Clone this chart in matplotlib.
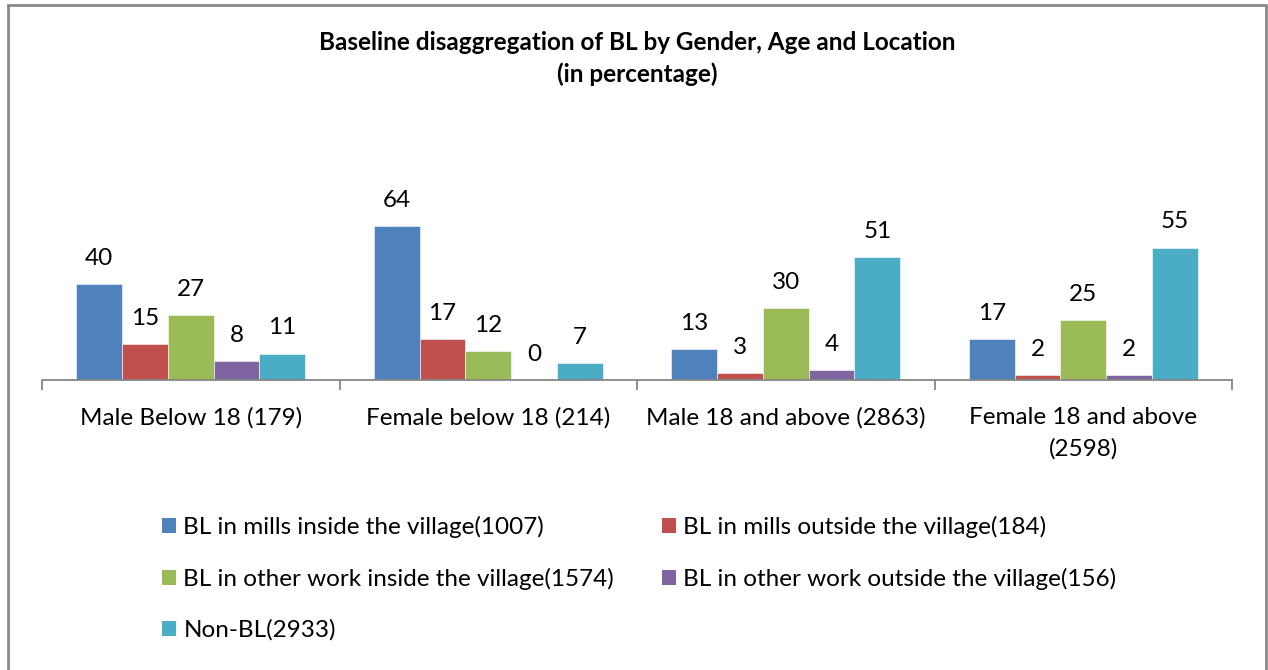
import matplotlib
matplotlib.use("Agg")
import matplotlib.pyplot as plt
from matplotlib.patches import Patch, Rectangle
import numpy as np

categories = ["Male Below 18 (179)", "Female below 18 (214)",
              "Male 18 and above (2863)", "Female 18 and above\n(2598)"]
series_names = ["BL in mills inside the village(1007)",
                "BL in mills outside the village(184)",
                "BL in other work inside the village(1574)",
                "BL in other work outside the village(156)",
                "Non-BL(2933)"]
values = [
    [40, 64, 13, 17],
    [15, 17, 3, 2],
    [27, 12, 30, 25],
    [8, 0, 4, 2],
    [11, 7, 51, 55],
]
colors = ["#4F81BD", "#C0504D", "#9BBB59", "#8064A2", "#4BACC6"]

FONT = "Lato"
plt.rcParams["font.family"] = [FONT, "DejaVu Sans"]
FS = 17.5

W, H = 1268, 670
fig = plt.figure(figsize=(W / 100, H / 100), dpi=100)

# figure border
fig.patches.append(Rectangle((8 / W, -0.01), (1266 - 8) / W, (H - 5) / H + 0.01,
                             transform=fig.transFigure, fill=False,
                             edgecolor="#8a8a8a", linewidth=2))

ax_left, ax_right = 42, 1232
ax_bottom = 380
ymax = 70
px_per_unit = 154 / 64
ax_top = ax_bottom - ymax * px_per_unit
ax = fig.add_axes([ax_left / W, (H - ax_bottom) / H,
                   (ax_right - ax_left) / W, (ax_bottom - ax_top) / H])

n = len(series_names)
x = np.arange(len(categories))
bw = 1 / 6.5
for i in range(n):
    xs = x + (i - (n - 1) / 2) * bw
    ax.bar(xs, values[i], width=bw, color=colors[i],
           edgecolor="white", linewidth=0.4)
    for xi, v in zip(xs, values[i]):
        ax.annotate(str(v), (xi, v), xytext=(0, 18.5), textcoords="offset points",
                    ha="center", va="center", fontsize=FS, color="black")

ax.set_xlim(-0.5, len(categories) - 0.5)
ax.set_ylim(0, ymax)
for s in ["top", "right", "left"]:
    ax.spines[s].set_visible(False)
ax.spines["bottom"].set_color("#868686")
ax.spines["bottom"].set_linewidth(1.3)
ax.set_yticks([])
ax.set_xticks(x)
ax.set_xticklabels(categories, fontsize=FS, linespacing=1.55)
ax.tick_params(axis="x", which="major", length=0, pad=19.5)
ax.set_xticks(np.arange(-0.5, len(categories)), minor=True)
ax.tick_params(axis="x", which="minor", length=7, color="#868686", width=1.3)
ax.patch.set_visible(False)

fig.text(637 / W, (H - 42) / H, "Baseline disaggregation of BL by Gender, Age and Location",
         ha="center", va="center", fontsize=17.5, fontweight="bold")
fig.text(637 / W, (H - 74) / H, "(in percentage)",
         ha="center", va="center", fontsize=17.5, fontweight="bold")

handles = [Patch(facecolor=c, edgecolor="none") for c in colors]
common = dict(frameon=False, fontsize=FS, handlelength=0.58, handleheight=0.58,
              handletextpad=0.3, labelspacing=1.22, borderpad=0, borderaxespad=0,
              loc="upper left")
l1 = fig.legend([handles[0], handles[2], handles[4]],
                [series_names[0], series_names[2], series_names[4]],
                bbox_to_anchor=(162 / W, (H - 516) / H), **common)
l2 = fig.legend([handles[1], handles[3]],
                [series_names[1], series_names[3]],
                bbox_to_anchor=(662 / W, (H - 516) / H), **common)

fig.savefig("out.png", dpi=100)
